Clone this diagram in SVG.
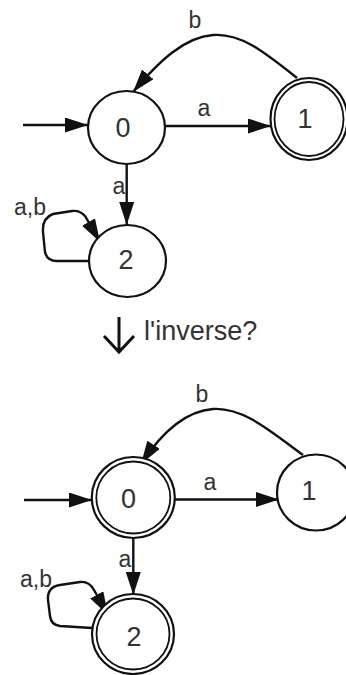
<svg xmlns="http://www.w3.org/2000/svg" width="346" height="675" viewBox="0 0 346 675">
<style>
.st{fill:#fff;stroke:#111;stroke-width:2.2}
.dbl{fill:none;stroke:#111;stroke-width:1.8}
.e{fill:none;stroke:#111;stroke-width:2.4}
.t{font-family:"Liberation Sans",Arial,sans-serif;fill:#333;text-anchor:middle}
.d{font-size:27px}
.l{font-size:23px}
</style>
<defs>
<marker id="ah" markerUnits="userSpaceOnUse" markerWidth="25" markerHeight="16" refX="23" refY="7.5" orient="auto">
<path d="M0,0 L23,7.5 L0,15 z" fill="#111"/>
</marker>
</defs>
<rect width="346" height="675" fill="#fff"/>
<g id="connectors">
<path class="e" d="M23,125 L88,125" marker-end="url(#ah)"/>
<path class="e" d="M164,126 L271,126" marker-end="url(#ah)"/>
<path class="e" d="M126.7,164 L126.7,225" marker-end="url(#ah)"/>
<path class="e" d="M297,78 C262,50 240,33 213,35 C185,37 160,60 133,92" marker-end="url(#ah)"/>
<path class="e" d="M89,261 L57,261 Q47,261 45,252 L43,232 Q42,218 53,214 L72,211 Q80,210 85,216 L100,242" marker-end="url(#ah)"/>
<path class="e" d="M24,500 L92,500" marker-end="url(#ah)"/>
<path class="e" d="M175,499.5 L279,499.5" marker-end="url(#ah)"/>
<path class="e" d="M133.3,538 L133.3,595" marker-end="url(#ah)"/>
<path class="e" d="M303,455 C275,435 245,407 213,409 C185,411 160,435 141,464" marker-end="url(#ah)"/>
<path class="e" d="M92,628 L60,626 Q51,625 50,616 L48,600 Q47,587 60,585 L80,582 Q89,581 94,590 L108,615" marker-end="url(#ah)"/>
</g>
<g id="labels">
<text class="t l" x="204" y="116">a</text>
<text class="t l" x="119" y="194">a</text>
<text class="t l" x="195" y="28">b</text>
<text class="t l" x="30" y="215">a,b</text>
<text class="t l" x="210" y="490">a</text>
<text class="t l" x="125" y="567">a</text>
<text class="t l" x="202" y="402">b</text>
<text class="t l" x="36" y="587">a,b</text>
</g>
<g id="top-n0"><ellipse class="st" cx="126.5" cy="127.5" rx="38.5" ry="36.5"/><text class="t d" x="123" y="137">0</text></g>
<g id="top-n1"><ellipse class="st" cx="309" cy="119" rx="38.5" ry="41"/><ellipse class="dbl" cx="309" cy="119" rx="34.5" ry="37"/><text class="t d" x="305" y="128">1</text></g>
<g id="top-n2"><ellipse class="st" cx="127.5" cy="261" rx="38.5" ry="36"/><text class="t d" x="126" y="269">2</text></g>
<g id="transform">
<path d="M119,317 L119,352 M104,336 L119,352 L134,336" fill="none" stroke="#111" stroke-width="3"/>
<text class="t" style="font-size:27px;text-anchor:start" x="144" y="340">l'inverse?</text>
</g>
<g id="bot-n0"><ellipse class="st" cx="133.3" cy="497.5" rx="41.5" ry="40.5"/><ellipse class="dbl" cx="133.3" cy="497.5" rx="37" ry="36"/><text class="t d" x="128.5" y="508">0</text></g>
<g id="bot-n1"><ellipse class="st" cx="316" cy="492.5" rx="39" ry="38"/><text class="t d" x="309" y="500">1</text></g>
<g id="bot-n2"><ellipse class="st" cx="133" cy="634" rx="41" ry="40"/><ellipse class="dbl" cx="133" cy="634" rx="36.5" ry="35.5"/><text class="t d" x="134" y="646">2</text></g>
</svg>
